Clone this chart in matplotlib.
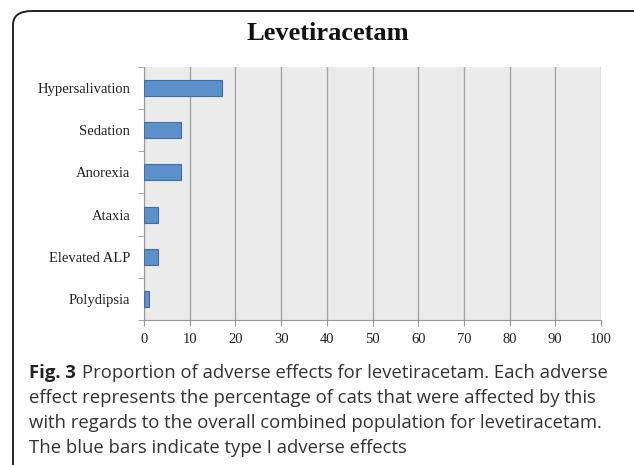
import matplotlib
matplotlib.use("Agg")
import matplotlib.pyplot as plt
from matplotlib.patches import FancyBboxPatch

categories = ["Hypersalivation", "Sedation", "Anorexia", "Ataxia",
              "Elevated ALP", "Polydipsia"]
values = [17.1, 8.1, 8.1, 3.1, 3.1, 1.1]
x_ticks = [0, 10, 20, 30, 40, 50, 60, 70, 80, 90, 100]

W, H = 634, 465
SERIF = "Liberation Serif"
CAP = "Open Sans"

fig = plt.figure(figsize=(W / 100, H / 100), dpi=100)
fig.patch.set_facecolor("white")

# rounded frame round the whole panel
frame = FancyBboxPatch((13 / W, -0.2), 1.2, 1.2 - 11 / H,
                       boxstyle="round,pad=0,rounding_size=0.03",
                       transform=fig.transFigure, facecolor="none",
                       edgecolor="#222222", linewidth=1.4, clip_on=False)
fig.patches.append(frame)

ax = fig.add_axes([144 / W, 1 - 320 / H, (601 - 144) / W, (320 - 67) / H])
ax.set_facecolor("#ebebeb")

ypos = list(range(len(categories)))[::-1]
ax.barh(ypos, values, height=0.38, color="#5b90cb", edgecolor="#3f6e9e",
        linewidth=0.8, zorder=3)

ax.set_xlim(0, 100)
ax.set_ylim(-0.5, len(categories) - 0.5)
ax.set_xticks(x_ticks)
ax.set_xticklabels([str(t) for t in x_ticks], family=SERIF,
                   fontsize=10.5, color="#222222")
ax.xaxis.grid(True, color="#a6a6a6", linewidth=1.0, zorder=1)

ax.set_yticks(ypos)
ax.set_yticklabels(categories, family=SERIF, fontsize=10.5, color="#222222")
ax.tick_params(axis="y", length=0, pad=10)
ax.set_yticks([i - 0.5 for i in range(len(categories) + 1)], minor=True)
ax.tick_params(axis="y", which="minor", length=4, color="#999999",
               direction="out")
ax.tick_params(axis="x", length=4, color="#999999", direction="out", pad=5)

for side in ["top", "right"]:
    ax.spines[side].set_visible(False)
for side in ["left", "bottom"]:
    ax.spines[side].set_color("#999999")

fig.text(328 / W, 1 - 34 / H, "Levetiracetam", ha="center", va="center",
         family=SERIF, fontsize=19, fontweight="bold", color="#111111")

# caption: bold "Fig. 3" then the rest right after it
fs = 13.3
x0 = 29 / W
y0 = 1 - 373 / H
lab = fig.text(x0, y0, "Fig. 3", family=CAP, fontweight="bold",
               fontsize=fs, va="center", color="#222222")
fig.canvas.draw()
bb = lab.get_window_extent()
fig.text((bb.x1 + 6) / W, y0,
         "Proportion of adverse effects for levetiracetam. Each adverse",
         family=CAP, fontsize=fs, va="center", color="#333333")
lines = ["effect represents the percentage of cats that were affected by this",
         "with regards to the overall combined population for levetiracetam.",
         "The blue bars indicate type I adverse effects"]
for i, ln in enumerate(lines):
    fig.text(x0, 1 - (398 + 25 * i) / H, ln, family=CAP, fontsize=fs,
             va="center", color="#333333")

fig.savefig("out.png", dpi=100)
